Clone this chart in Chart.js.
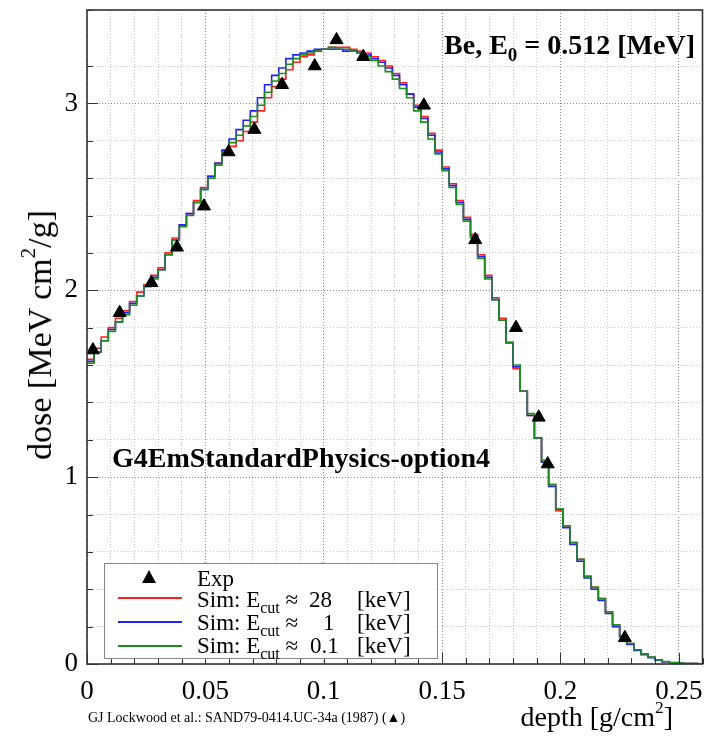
<!DOCTYPE html>
<html>
<head>
<meta charset="utf-8">
<script src="https://cdn.jsdelivr.net/npm/chart.js@4.4.1/dist/chart.umd.min.js"></script>
<style>
  body { margin: 0; background: #fff; }
  #wrap { position: relative; width: 711px; height: 739px; }
  #c { position: absolute; left: 0; top: 0; }
  .txt { position: absolute; font-family: "Liberation Serif", "Times New Roman", serif; color: #000; white-space: nowrap; line-height: 1; }
  .bold { font-weight: bold; }
  #legend { position: absolute; left: 104px; top: 563px; width: 332px; height: 94px; border: 1px solid #888; background: #fff; }
  #legend .row { position: absolute; font-family: "Liberation Serif", "Times New Roman", serif; font-size: 23px; line-height: 23px; white-space: nowrap; }
  #legend .ln { position: absolute; left: 13px; width: 64px; height: 0; border-top: 2px solid; }
  #legend sub { font-size: 16px; vertical-align: -6px; line-height: 0; }
  .tri { position: absolute; width: 0; height: 0; border-left: 7.5px solid transparent; border-right: 7.5px solid transparent; border-bottom: 13px solid #000; }
  sup { font-size: 0.62em; vertical-align: 0.75em; line-height: 0; }
</style>
</head>
<body>
<div id="wrap">
  <canvas id="c" width="711" height="739"></canvas>

  <div class="txt bold" style="right:16px; top:31px; font-size:28px;">Be, E<span style="font-size:19px; position:relative; top:7px;">0</span> = 0.512 [MeV]</div>
  <div class="txt bold" style="left:112px; top:444px; font-size:28px;">G4EmStandardPhysics-option4</div>

  <div id="legend">
    <div class="tri" style="left:37px; top:6px;"></div>
    <div class="row" style="left:92px; top:3px;">Exp</div>

    <div class="ln" style="top:33px; border-color:#ff2020;"></div>
    <div class="row" style="left:92px; top:24px;">Sim: E<sub>cut</sub> ≈</div>
    <div class="row" style="left:204px; top:24px;">28</div>
    <div class="row" style="left:252px; top:24px;">[keV]</div>

    <div class="ln" style="top:57px; border-color:#2020ff;"></div>
    <div class="row" style="left:92px; top:47px;">Sim: E<sub>cut</sub> ≈</div>
    <div class="row" style="left:218px; top:47px;">1</div>
    <div class="row" style="left:252px; top:47px;">[keV]</div>

    <div class="ln" style="top:81px; border-color:#1e8c1e;"></div>
    <div class="row" style="left:92px; top:70px;">Sim: E<sub>cut</sub> ≈</div>
    <div class="row" style="left:205px; top:70px;">0.1</div>
    <div class="row" style="left:252px; top:70px;">[keV]</div>
  </div>

  <div class="txt" style="left:40px; top:335px; font-size:34px; transform:translate(-50%,-50%) rotate(-90deg);">dose [MeV cm<sup>2</sup>/g]</div>
  <div class="txt" style="right:38px; top:703px; font-size:28px;">depth [g/cm<sup>2</sup>]</div>
  <div class="txt" style="left:88px; top:711px; font-size:14px;">GJ Lockwood et al.: SAND79-0414.UC-34a (1987) (▲)</div>
</div>

<script>
// histogram bins in depth [g/cm2]
const binWidth = 0.003;

// simulated dose per bin, Ecut ~ 28 keV
const doseCut28 = [1.63,1.69,1.75,1.80,1.85,1.89,1.94,1.99,2.03,2.08,2.12,
  2.20,2.28,2.35,2.41,2.48,2.55,2.61,2.68,2.74,2.77,
  2.80,2.85,2.90,2.96,3.03,3.09,3.13,3.18,3.22,3.25,
  3.26,3.28,3.29,3.30,3.30,3.30,3.29,3.28,3.27,3.25,
  3.23,3.20,3.16,3.11,3.05,2.99,2.93,2.84,2.75,2.66,
  2.57,2.48,2.39,2.30,2.19,2.08,1.96,1.85,1.72,1.58,
  1.46,1.33,1.21,1.08,0.96,0.82,0.74,0.65,0.56,0.47,
  0.41,0.35,0.28,0.21,0.15,0.11,0.074,0.052,0.036,0.021,
  0.012,0.007,0.004,0.003,0.002,0.001];

// Ecut ~ 1 keV
const doseCut1 = [1.62,1.67,1.73,1.79,1.83,1.88,1.93,1.97,2.02,2.07,2.11,
  2.19,2.27,2.35,2.41,2.47,2.54,2.61,2.68,2.75,2.81,
  2.86,2.91,2.96,3.03,3.10,3.15,3.19,3.24,3.26,3.27,
  3.28,3.29,3.29,3.29,3.29,3.28,3.28,3.27,3.26,3.24,
  3.22,3.19,3.15,3.10,3.05,2.98,2.92,2.83,2.74,2.65,
  2.56,2.47,2.38,2.29,2.18,2.07,1.95,1.84,1.72,1.59,
  1.46,1.33,1.21,1.08,0.95,0.83,0.73,0.64,0.55,0.46,
  0.40,0.34,0.27,0.20,0.145,0.105,0.072,0.050,0.034,0.020,
  0.012,0.007,0.004,0.003,0.002,0.001];

// Ecut ~ 0.1 keV
const doseCut01 = [1.61,1.67,1.73,1.78,1.83,1.87,1.92,1.97,2.02,2.06,2.11,
  2.19,2.27,2.34,2.40,2.47,2.54,2.60,2.67,2.74,2.79,
  2.83,2.88,2.93,2.99,3.06,3.12,3.16,3.21,3.24,3.26,
  3.27,3.28,3.29,3.30,3.29,3.29,3.28,3.27,3.25,3.23,
  3.20,3.17,3.13,3.08,3.03,2.96,2.90,2.81,2.73,2.64,
  2.55,2.46,2.37,2.28,2.17,2.06,1.95,1.84,1.72,1.60,
  1.46,1.34,1.21,1.09,0.96,0.83,0.74,0.65,0.56,0.47,
  0.41,0.35,0.28,0.21,0.15,0.11,0.076,0.054,0.037,0.022,
  0.013,0.008,0.005,0.003,0.002,0.001];

// Lockwood et al. measurement
const expDepth = [0.0025,0.0138,0.0272,0.038,0.0494,0.0598,0.0707,0.0824,0.0962,0.1054,0.1167,0.1423,0.164,0.1812,0.1908,0.1946,0.2272];
const expDose  = [1.68,1.88,2.04,2.23,2.45,2.74,2.86,3.10,3.20,3.34,3.25,2.99,2.27,1.80,1.32,1.07,0.14];

const xLabels = [0, 0.05, 0.1, 0.15, 0.2, 0.25];
const yLabels = [0, 1, 2, 3];

const near = (v, list) => list.find(t => Math.abs(t - v) < 1e-6);
const isMajorX = v => near(v, xLabels) !== undefined;
const isMajorY = v => near(v, yLabels) !== undefined;

function histPoints(vals){
  const pts = vals.map((v,i)=>({x: i*binWidth, y: v}));
  pts.push({x: vals.length*binWidth, y: vals[vals.length-1]});
  return pts;
}

const framePlugin = {
  id: 'frame',
  afterDraw(chart){
    const {ctx, chartArea: a, scales: {x, y}} = chart;
    ctx.save();
    ctx.strokeStyle = '#333';
    ctx.lineWidth = 1;
    x.ticks.forEach(t=>{
      const px = Math.round(x.getPixelForValue(t.value)) + 0.5;
      const len = isMajorX(t.value) ? 11 : 6;
      ctx.beginPath(); ctx.moveTo(px, a.bottom); ctx.lineTo(px, a.bottom - len); ctx.stroke();
    });
    y.ticks.forEach(t=>{
      const py = Math.round(y.getPixelForValue(t.value)) + 0.5;
      const len = isMajorY(t.value) ? 11 : 6;
      ctx.beginPath(); ctx.moveTo(a.left, py); ctx.lineTo(a.left + len, py); ctx.stroke();
    });
    ctx.lineWidth = 1.6;
    ctx.strokeRect(a.left, a.top, a.right - a.left, a.bottom - a.top);
    ctx.restore();
  }
};

const histStyle = { pointRadius: 0, borderWidth: 1.6, stepped: 'before', fill: false, tension: 0 };

new Chart(document.getElementById('c'), {
  type: 'line',
  data: {
    datasets: [
      { label: 'Exp', data: expDepth.map((d,i)=>({x: d, y: expDose[i]})), showLine: false,
        pointStyle: 'triangle', pointRadius: 7.5, backgroundColor: '#000', borderColor: '#000', borderWidth: 1, order: 0 },
      { label: 'Sim: Ecut = 0.1 keV', data: histPoints(doseCut01), borderColor: '#1e8c1e', ...histStyle, order: 1 },
      { label: 'Sim: Ecut = 1 keV', data: histPoints(doseCut1), borderColor: '#2020ff', ...histStyle, order: 2 },
      { label: 'Sim: Ecut = 28 keV', data: histPoints(doseCut28), borderColor: '#ff2020', ...histStyle, order: 3 }
    ]
  },
  options: {
    responsive: false,
    animation: false,
    devicePixelRatio: 1,
    layout: { padding: { top: 10, right: 5, left: 0, bottom: 0 } },
    plugins: { legend: { display: false }, tooltip: { enabled: false } },
    scales: {
      x: {
        type: 'linear', min: 0, max: 0.26,
        afterFit(s){ s.height = 75; s.paddingLeft = 0; s.paddingRight = 0; },
        ticks: {
          stepSize: 0.01, autoSkip: false, maxRotation: 0, padding: 12, color: '#000',
          font: { family: '"Liberation Serif", "Times New Roman", serif', size: 27 },
          callback: v => { const m = near(v, xLabels); return m === undefined ? '' : String(m); }
        },
        grid: { drawTicks: false, lineWidth: 1, color: c => isMajorX(c.tick.value) ? '#8a8a8a' : '#cfcfcf' },
        border: { display: false, dash: [1, 2] }
      },
      y: {
        type: 'linear', min: 0, max: 3.5,
        afterFit(s){ s.width = 87; s.paddingTop = 0; s.paddingBottom = 0; },
        ticks: {
          stepSize: 0.2, autoSkip: false, padding: 9, color: '#000',
          font: { family: '"Liberation Serif", "Times New Roman", serif', size: 27 },
          callback: v => { const m = near(v, yLabels); return m === undefined ? '' : String(m); }
        },
        grid: { drawTicks: false, lineWidth: 1, color: c => isMajorY(c.tick.value) ? '#8a8a8a' : '#cfcfcf' },
        border: { display: false, dash: [1, 2] }
      }
    }
  },
  plugins: [framePlugin]
});
</script>
</body>
</html>
